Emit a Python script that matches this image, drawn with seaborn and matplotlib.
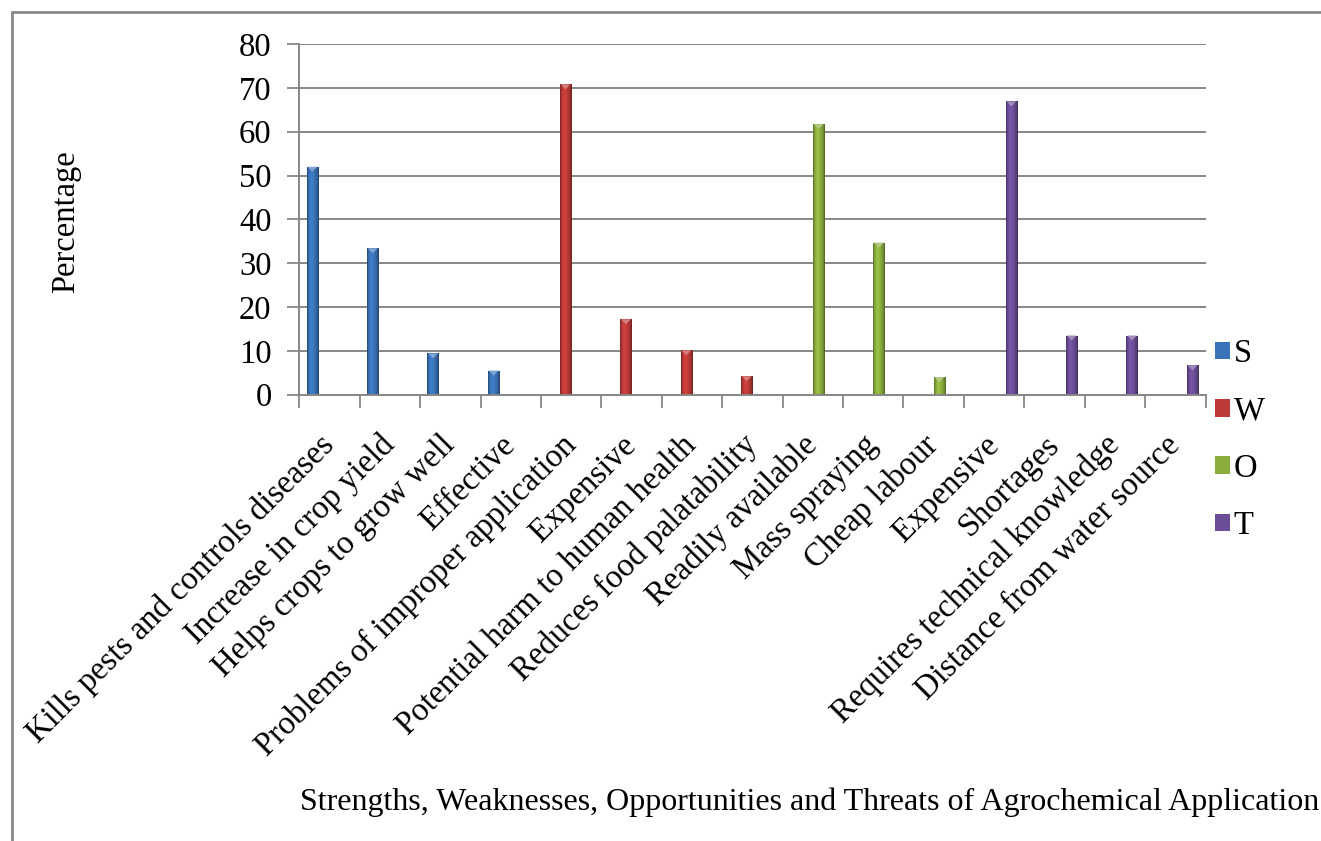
import numpy as np
import pandas as pd
import matplotlib
matplotlib.use("Agg")
import matplotlib.pyplot as plt
from matplotlib.lines import Line2D
from matplotlib.patches import Polygon
from matplotlib.colors import to_rgb
import seaborn as sns

# SWOT items (in display order), their group and the share of respondents (%)
items = [
    "Kills pests and controls diseases",
    "Increase in crop yield",
    "Helps crops to grow well",
    "Effective",
    "Problems of improper application",
    "Expensive",
    "Potential harm to human health",
    "Reduces food palatability",
    "Readily available",
    "Mass spraying",
    "Cheap labour",
    "Expensive",
    "Shortages",
    "Requires technical knowledge",
    "Distance from water source",
]
groups = ["S", "S", "S", "S", "W", "W", "W", "W", "O", "O", "O", "T", "T", "T", "T"]
percent = [52.0, 33.4, 9.4, 5.5, 70.8, 17.2, 10.1, 4.2, 61.7, 34.7, 4.0, 66.9, 13.5, 13.5, 6.7]

group_order = ["S", "W", "O", "T"]
group_colors = ["#3a73b8", "#bd3a37", "#8aae3e", "#6c4d97"]

y_ticks = [0, 10, 20, 30, 40, 50, 60, 70, 80]

x_title = "Strengths, Weaknesses, Opportunities and Threats of Agrochemical Application"
y_title = "Percentage"

df = pd.DataFrame({"item": np.arange(len(items)), "group": groups, "percent": percent})

sns.set_theme(style="white")
plt.rcParams["font.family"] = ["Liberation Serif", "DejaVu Serif"]
plt.rcParams["text.color"] = "black"
plt.rcParams["xtick.color"] = "black"
plt.rcParams["ytick.color"] = "black"

FS = 23.5
W, H, DPI = 1321, 841, 100
fig = plt.figure(figsize=(W / DPI, H / DPI), dpi=DPI)
ax = fig.add_axes([299.3 / W, 1 - 394.7 / H, (1205.5 - 299.3) / W, (394.7 - 44) / H])

grid_c = "#878787"
ax.set_axisbelow(True)

sns.barplot(
    data=df, x="item", y="percent", hue="group", hue_order=group_order,
    palette=group_colors, width=0.76, dodge=True, linewidth=0, saturation=1,
    errorbar=None, ax=ax,
)

ax.set_xlim(-0.5, len(items) - 0.5)
ax.set_ylim(0, 80)

# bevelled look: horizontal shading clipped to each bar plus a light cap facet
px_to_y = 80 / (394.7 - 44)
for patch in list(ax.patches):
    h = patch.get_height()
    if h <= 0:
        continue
    x0 = patch.get_x()
    w = patch.get_width()
    base = np.array(to_rgb(patch.get_facecolor()))
    t = np.linspace(0, 1, 64)
    shade = np.interp(t, [0, 0.12, 0.35, 0.6, 0.88, 1.0], [0.62, 0.92, 1.12, 1.02, 0.8, 0.55])
    cols = np.clip(base[None, :] * shade[:, None], 0, 1)
    img = np.concatenate([cols, np.ones((64, 1))], axis=1)[None, :, :]
    im = ax.imshow(img, extent=(x0, x0 + w, 0, h), aspect="auto",
                   interpolation="bilinear", zorder=patch.get_zorder() + 0.1)
    im.set_clip_path(patch)
    cap = min(5 * px_to_y, h / 2)
    light = base + (1 - base) * 0.35
    ax.add_patch(Polygon([(x0 + w * 0.08, h), (x0 + w * 0.92, h), (x0 + w / 2, h - cap)],
                         closed=True, facecolor=light, edgecolor="none",
                         zorder=patch.get_zorder() + 0.2))

ax.set_xlim(-0.5, len(items) - 0.5)
ax.set_ylim(0, 80)
ax.set_yticks(y_ticks)
ax.set_yticklabels([str(v) for v in y_ticks], fontsize=FS)

# tick marks sit on category boundaries, labels at category centres
ax.set_xticks(np.arange(-0.5, len(items), 1.0))
ax.set_xticklabels([])
ax.set_xticks(np.arange(len(items)), minor=True)
ax.set_xticklabels(items, minor=True, rotation=45, ha="right", va="center",
                   rotation_mode="anchor", fontsize=FS)
ax.tick_params(axis="x", which="minor", length=0, pad=33)
ax.tick_params(axis="x", which="major", length=9, width=1.3, color=grid_c,
               direction="out", bottom=True)
ax.tick_params(axis="y", length=9, width=1.3, color=grid_c, labelcolor="black",
               direction="out", left=True, pad=11)

ax.yaxis.grid(True, color=grid_c, linewidth=1.4)
ax.xaxis.grid(False)
for side in ["top", "right"]:
    ax.spines[side].set_visible(False)
for side in ["left", "bottom"]:
    ax.spines[side].set_color(grid_c)
    ax.spines[side].set_linewidth(1.4)

ax.set_xlabel("")
ax.set_ylabel("")

handles, labels = ax.get_legend_handles_labels()
ax.get_legend().remove()
fig.legend(handles, labels, loc="center left", bbox_to_anchor=(1215 / W, 1 - 440 / H),
           frameon=False, fontsize=FS, handlelength=0.45, handleheight=0.45,
           handletextpad=0.12, labelspacing=0.82, borderaxespad=0, borderpad=0)

fig.text(66 / W, 1 - 222 / H, y_title, rotation=90, ha="center", va="center", fontsize=FS)
fig.text(300 / W, 1 - 802 / H, x_title, ha="left", va="center", fontsize=23)

# chart frame (left and top edges)
fig.add_artist(Line2D([12 / W, 12 / W], [0, 1 - 12 / H], transform=fig.transFigure,
                      color="#8a8a8a", linewidth=2))
fig.add_artist(Line2D([12 / W, 1], [1 - 12 / H, 1 - 12 / H], transform=fig.transFigure,
                      color="#8a8a8a", linewidth=2))

fig.savefig("out.png", dpi=DPI, facecolor="white")
